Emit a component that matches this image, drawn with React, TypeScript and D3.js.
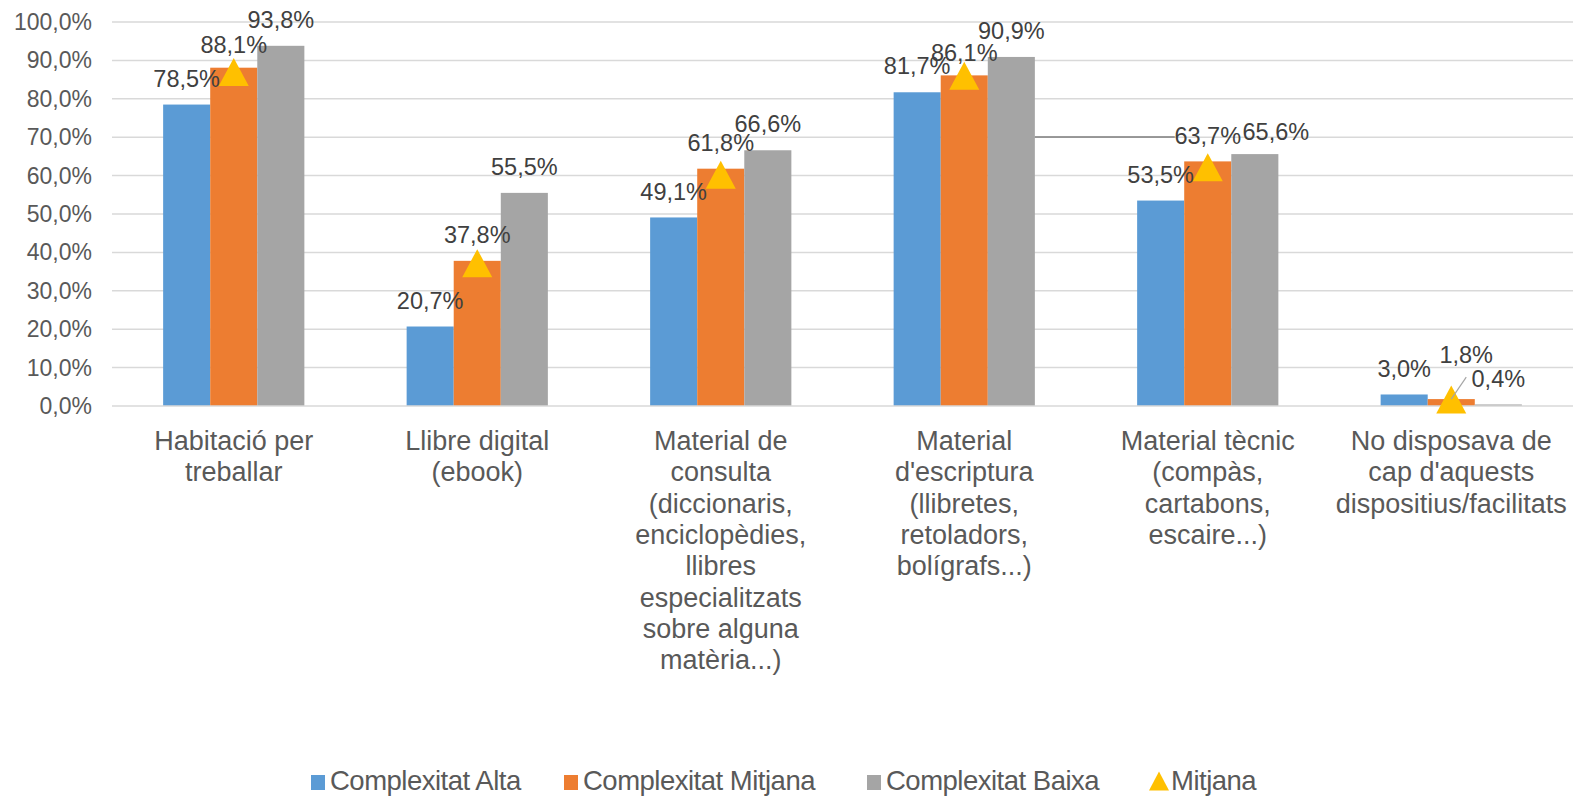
import React from "react";
import * as d3 from "d3";

const categories: string[][] = [
  ["Habitació per", "treballar"],
  ["Llibre digital", "(ebook)"],
  ["Material de", "consulta", "(diccionaris,", "enciclopèdies,", "llibres", "especialitzats", "sobre alguna", "matèria...)"],
  ["Material", "d'escriptura", "(llibretes,", "retoladors,", "bolígrafs...)"],
  ["Material tècnic", "(compàs,", "cartabons,", "escaire...)"],
  ["No disposava de", "cap d'aquests", "dispositius/facilitats"],
];
const seriesNames = ["Complexitat Alta", "Complexitat Mitjana", "Complexitat Baixa"];
const alta = [78.5, 20.7, 49.1, 81.7, 53.5, 3.0];
const mitjanaComplex = [88.1, 37.8, 61.8, 86.1, 63.7, 1.8];
const baixa = [93.8, 55.5, 66.6, 90.9, 65.6, 0.4];
const mitjana = [87.0, 37.2, 60.2, 86.0, 62.2, 1.7];
const meanName = "Mitjana";
const yTicks = [0, 10, 20, 30, 40, 50, 60, 70, 80, 90, 100];

const colors = ["#5B9BD5", "#ED7D31", "#A5A5A5"];
const triColor = "#FFC000";
const textColor = "#595959";
const gridColor = "#D9D9D9";
const FONT = "'Liberation Sans', Arial, sans-serif";

const W = 1587;
const H = 796;
const plotLeft = 112;
const plotRight = 1573;
const plotTop = 22;
const plotBottom = 406;

// label nudges: key `${series}-${cat}` -> [dx, dy]
const labelNudge: Record<string, [number, number]> = {
  "1-5": [15, -18],
  "2-4": [21, 4],
  "1-3": [0, 3],
  "1-0": [0, 3],
};

const fmt = (v: number) => v.toFixed(1).replace(".", ",") + "%";

function tri(cx: number, cy: number, w: number, h: number) {
  return `M${cx},${cy - h / 2}L${cx + w / 2},${cy + h / 2}L${cx - w / 2},${cy + h / 2}Z`;
}

export default function App() {
  const idx = categories.map((_, i) => String(i));
  const x = d3.scaleBand<string>().domain(idx).range([plotLeft, plotRight]).paddingInner(0.42).paddingOuter(0.21);
  const xs = d3.scaleBand<number>().domain([0, 1, 2]).range([0, x.bandwidth()]);
  const y = d3.scaleLinear().domain([0, 100]).range([plotBottom, plotTop]);
  const series = [alta, mitjanaComplex, baixa];

  const bars: React.ReactNode[] = [];
  const labels: React.ReactNode[] = [];
  const leaders: React.ReactNode[] = [];
  series.forEach((vals, s) => {
    vals.forEach((v, c) => {
      const bx = (x(String(c)) as number) + (xs(s) as number);
      const bw = xs.bandwidth();
      bars.push(
        <rect key={`b${s}-${c}`} x={bx} y={y(v)} width={bw} height={y(0) - y(v)} fill={colors[s]} />
      );
      const n = labelNudge[`${s}-${c}`] || [0, 0];
      const lx = bx + bw / 2 + n[0];
      const ly = y(v) - 26 + n[1];
      labels.push(
        <text key={`l${s}-${c}`} x={lx} y={ly} dy="0.35em" textAnchor="middle" fontSize={23.5} fill="#404040" fontFamily={FONT}>
          {fmt(v)}
        </text>
      );
      if (s === 1 && c === 5) {
        leaders.push(
          <line key="ld1" x1={lx} y1={ly + 22} x2={bx + bw / 2} y2={y(v)} stroke="#A6A6A6" strokeWidth={1.2} />
        );
      }
      if (s === 1 && c === 4) {
        const gx = (x(String(3)) as number) + (xs(2) as number) + bw;
        leaders.push(
          <line key="ld2" x1={gx} y1={ly + 1.5} x2={lx - 33} y2={ly + 1.5} stroke="#7F7F7F" strokeWidth={1.5} />
        );
      }
    });
  });

  const legendItems = [
    { type: "rect", color: colors[0], label: seriesNames[0], x: 311 },
    { type: "rect", color: colors[1], label: seriesNames[1], x: 564 },
    { type: "rect", color: colors[2], label: seriesNames[2], x: 867 },
    { type: "tri", color: triColor, label: meanName, x: 1149 },
  ];

  return (
    <svg width={W} height={H} style={{ position: "absolute", left: 0, top: 0, background: "#fff" }}>
      <rect x={0} y={0} width={W} height={H} fill="#fff" />
      {yTicks.map((t) => (
        <g key={`g${t}`}>
          {t > 0 && <line x1={plotLeft} x2={plotRight} y1={y(t)} y2={y(t)} stroke={gridColor} strokeWidth={1.5} />}
          <text x={92} y={y(t)} dy="0.35em" textAnchor="end" fontSize={23} fill={textColor} fontFamily={FONT}>
            {fmt(t)}
          </text>
        </g>
      ))}
      {bars}
      <line x1={plotLeft} x2={plotRight} y1={y(0)} y2={y(0)} stroke={gridColor} strokeWidth={1.5} />
      {mitjana.map((v, c) => (
        <path key={`t${c}`} d={tri((x(String(c)) as number) + x.bandwidth() / 2, y(v), 30, 28)} fill={triColor} />
      ))}
      {leaders}
      {labels}
      {categories.map((lines, c) => (
        <text key={`x${c}`} textAnchor="middle" fontSize={27} fill={textColor} fontFamily={FONT}>
          {lines.map((ln, i) => (
            <tspan key={i} x={(x(String(c)) as number) + x.bandwidth() / 2} y={450 + i * 31.3}>
              {ln}
            </tspan>
          ))}
        </text>
      ))}
      {legendItems.map((it, i) => (
        <g key={`lg${i}`}>
          {it.type === "rect" ? (
            <rect x={it.x} y={775} width={14} height={15} fill={it.color} />
          ) : (
            <path d={tri(it.x + 10, 781, 20, 19)} fill={it.color} />
          )}
          <text x={it.x + (it.type === "rect" ? 19 : 22)} y={790} fontSize={27.5} fill={textColor} fontFamily={FONT} letterSpacing={-0.5}>
            {it.label}
          </text>
        </g>
      ))}
    </svg>
  );
}
